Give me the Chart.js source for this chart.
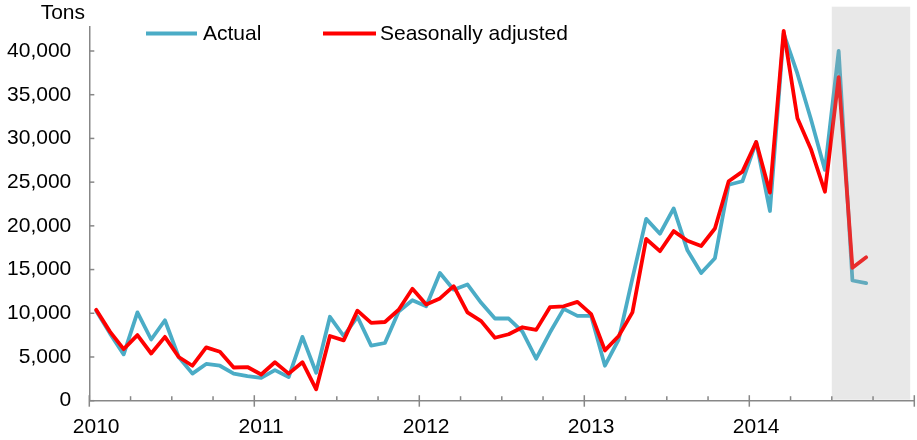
<!DOCTYPE html>
<html>
<head>
<meta charset="utf-8">
<script src="https://cdn.jsdelivr.net/npm/chart.js@4/dist/chart.umd.min.js"></script>
<style>
  html, body { margin: 0; padding: 0; background: #ffffff; }
  #wrap { width: 917px; height: 440px; position: relative; }
</style>
</head>
<body>
<div id="wrap"><canvas id="c" width="917" height="440"></canvas></div>
<script>
// ---- Data (monthly, Jan 2010 onward) ----
const startYear = 2010;
const months = [
  "2010-01","2010-02","2010-03","2010-04","2010-05","2010-06","2010-07","2010-08","2010-09","2010-10","2010-11","2010-12",
  "2011-01","2011-02","2011-03","2011-04","2011-05","2011-06","2011-07","2011-08","2011-09","2011-10","2011-11","2011-12",
  "2012-01","2012-02","2012-03","2012-04","2012-05","2012-06","2012-07","2012-08","2012-09","2012-10","2012-11","2012-12",
  "2013-01","2013-02","2013-03","2013-04","2013-05","2013-06","2013-07","2013-08","2013-09","2013-10","2013-11","2013-12",
  "2014-01","2014-02","2014-03","2014-04","2014-05","2014-06","2014-07","2014-08","2014-09"
];
const actual = [
  10300, 7700, 5300, 10100, 7000, 9200, 5000, 3100, 4200, 4000, 3100, 2800,
  2600, 3500, 2700, 7300, 3200, 9600, 7400, 9600, 6300, 6600, 10200, 11500,
  10800, 14600, 12700, 13300, 11200, 9400, 9400, 7900, 4800, 7800, 10500, 9700,
  9700, 4000, 7000, 14000, 20800, 19100, 22000, 17200, 14600, 16300, 24700, 25100,
  29600, 21700, 42000, 37400, 32100, 26400, 40000, 13750, 13450
];
const seasonallyAdjusted = [
  10400, 7900, 5900, 7500, 5400, 7300, 5000, 4000, 6100, 5600, 3800, 3850,
  3000, 4400, 3100, 4400, 1300, 7400, 6900, 10300, 8900, 9000, 10400, 12800,
  11000, 11700, 13100, 10100, 9100, 7200, 7600, 8400, 8100, 10700, 10800, 11300,
  9900, 5750, 7400, 10100, 18500, 17100, 19400, 18300, 17700, 19700, 25100, 26200,
  29600, 23800, 42300, 32300, 28700, 23900, 37000, 15200, 16400
];
const seriesNames = ["Actual", "Seasonally adjusted"];
const yTickValues = [0, 5000, 10000, 15000, 20000, 25000, 30000, 35000, 40000];
const yearLabels = ["2010", "2011", "2012", "2013", "2014"];
const shadedPeriod = [54, 59.7]; // month index range (shaded period)
const yUnit = "Tons";

// ---- Styles ----
const COL_ACTUAL = "#4bacc6";
const COL_SA = "#ff0000";
const AXIS_COL = "#878787";
const FONT = "'Liberation Sans', Arial, sans-serif";
const FS = 21;

const toPoints = arr => arr.map((v, i) => ({ x: i + 0.5, y: v }));

const extras = {
  id: 'extras',
  afterDatasetsDraw(chart) {
    const ctx = chart.ctx, xs = chart.scales.x, ca = chart.chartArea;
    const x0 = xs.getPixelForValue(shadedPeriod[0]);
    const x1 = xs.getPixelForValue(shadedPeriod[1]);
    ctx.save();
    ctx.fillStyle = "rgba(165,165,165,0.26)";
    ctx.fillRect(x0, 6.7, x1 - x0, ca.bottom - 1 - 6.7);
    ctx.restore();
  },
  afterDraw(chart) {
    const ctx = chart.ctx, xs = chart.scales.x, ys = chart.scales.y, ca = chart.chartArea;
    ctx.save();
    ctx.strokeStyle = AXIS_COL;
    ctx.lineWidth = 1.5;
    // quarterly minor ticks, yearly major ticks (crossing the axis)
    for (let v = 0; v <= 60; v += 3) {
      const px = xs.getPixelForValue(v);
      ctx.beginPath();
      if (v % 12 === 0) { ctx.moveTo(px, ca.bottom - 5.5); ctx.lineTo(px, ca.bottom + 6); }
      else { ctx.moveTo(px, ca.bottom - 4.5); ctx.lineTo(px, ca.bottom); }
      ctx.stroke();
    }
    ys.ticks.forEach(t => {
      const py = ys.getPixelForValue(t.value);
      ctx.beginPath();
      ctx.moveTo(ca.left, py); ctx.lineTo(ca.left + 5, py);
      ctx.stroke();
    });
    ctx.fillStyle = "#000";
    ctx.font = FS + "px " + FONT;
    ctx.textAlign = "right";
    ctx.textBaseline = "middle";
    ctx.fillText(yUnit, 85, 13);
    const items = [
      { label: seriesNames[0], color: COL_ACTUAL, x0: 146, x1: 197, tx: 203 },
      { label: seriesNames[1], color: COL_SA, x0: 323, x1: 376, tx: 380 }
    ];
    ctx.textAlign = "left";
    items.forEach(it => {
      ctx.strokeStyle = it.color;
      ctx.lineWidth = 3.8;
      ctx.beginPath(); ctx.moveTo(it.x0, 33.5); ctx.lineTo(it.x1, 33.5); ctx.stroke();
      ctx.fillText(it.label, it.tx, 34);
    });
    ctx.restore();
  }
};

new Chart(document.getElementById('c'), {
  type: 'line',
  data: {
    datasets: [
      { label: seriesNames[0], data: toPoints(actual), borderColor: COL_ACTUAL, backgroundColor: COL_ACTUAL,
        borderWidth: 3.8, pointRadius: 0, tension: 0, borderJoinStyle: 'round', borderCapStyle: 'round', order: 2 },
      { label: seriesNames[1], data: toPoints(seasonallyAdjusted), borderColor: COL_SA, backgroundColor: COL_SA,
        borderWidth: 3.8, pointRadius: 0, tension: 0, borderJoinStyle: 'round', borderCapStyle: 'round', order: 1 }
    ]
  },
  options: {
    responsive: false,
    animation: false,
    devicePixelRatio: 1,
    layout: { padding: { top: 26.7, right: 2.7, left: 0, bottom: 0 } },
    plugins: { legend: { display: false }, tooltip: { enabled: false } },
    scales: {
      x: {
        type: 'linear', min: 0, max: 60,
        // year labels centred on each January
        afterBuildTicks(s) { s.ticks = yearLabels.map((_, k) => ({ value: k * 12 + 0.5 })); },
        afterFit(s) { s.height = 39.3; s.paddingLeft = 0; s.paddingRight = 0; },
        grid: { display: false, drawTicks: false },
        border: { display: true, color: AXIS_COL, width: 1.5 },
        ticks: {
          autoSkip: false, maxRotation: 0, padding: 14, color: '#000',
          font: { family: FONT, size: FS },
          callback: v => yearLabels[Math.round((v - 0.5) / 12)]
        }
      },
      y: {
        min: 0, max: 42780,
        afterBuildTicks(s) { s.ticks = yTickValues.map(v => ({ value: v })); },
        afterFit(s) { s.width = 89.3; s.paddingTop = 0; s.paddingBottom = 0; },
        grid: { display: false, drawTicks: false },
        border: { display: true, color: AXIS_COL, width: 1.5 },
        ticks: {
          padding: 18, color: '#000',
          font: { family: FONT, size: FS },
          callback: v => v.toLocaleString('en-US')
        }
      }
    }
  },
  plugins: [extras]
});
</script>
</body>
</html>
